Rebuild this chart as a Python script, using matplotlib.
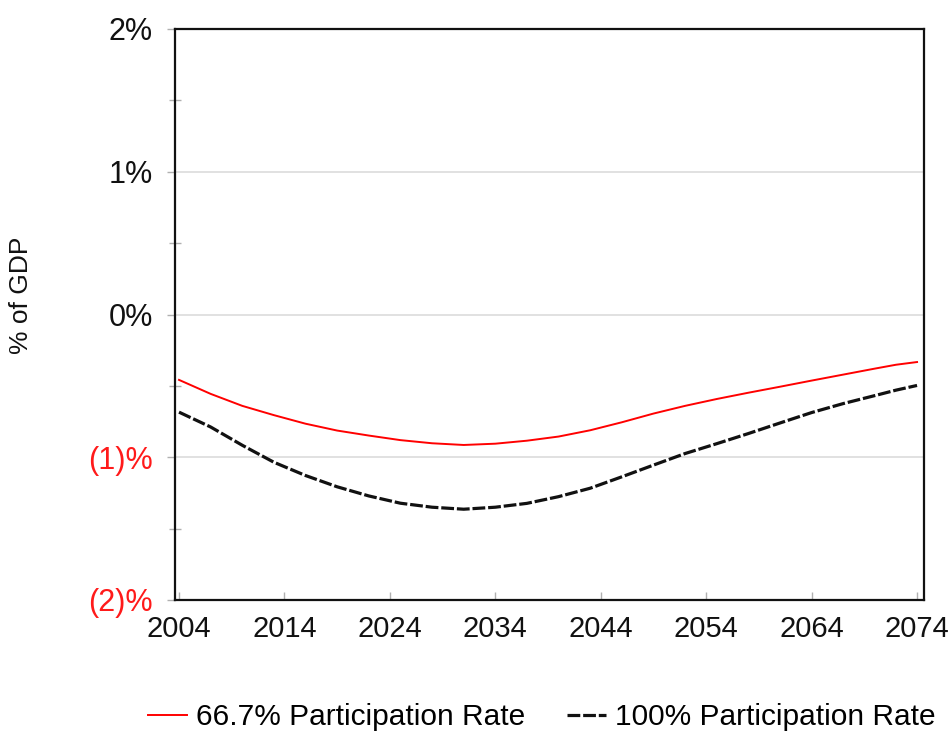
import matplotlib
matplotlib.use("Agg")
import matplotlib.pyplot as plt
from matplotlib.ticker import FixedLocator

plt.rcParams['font.family'] = ['Liberation Sans', 'DejaVu Sans']

# values (% of GDP)
years = [2004, 2007, 2010, 2013, 2016, 2019, 2022, 2025, 2028, 2031, 2034,
         2037, 2040, 2043, 2046, 2049, 2052, 2055, 2058, 2061, 2064, 2067,
         2070, 2072, 2074]
rate_667 = [-0.458, -0.556, -0.640, -0.705, -0.765, -0.813, -0.848, -0.880,
            -0.902, -0.914, -0.905, -0.884, -0.855, -0.811, -0.755, -0.694,
            -0.640, -0.592, -0.548, -0.506, -0.463, -0.421, -0.379, -0.352,
            -0.333]
rate_100 = [-0.684, -0.788, -0.916, -1.035, -1.128, -1.207, -1.271, -1.322,
            -1.350, -1.364, -1.350, -1.323, -1.276, -1.217, -1.137, -1.055,
            -0.974, -0.905, -0.834, -0.760, -0.687, -0.624, -0.568, -0.530,
            -0.497]

x_ticks = [2004, 2014, 2024, 2034, 2044, 2054, 2064, 2074]
y_ticks = [-2, -1, 0, 1, 2]
y_labels = ["(2)%", "(1)%", "0%", "1%", "2%"]
y_minor = [-1.5, -0.5, 0.5, 1.5]

fig = plt.figure(figsize=(9.5, 7.32), dpi=100)
ax = fig.add_axes([175/950, 132/732, 749/950, 571/732])

ax.plot(years, rate_667, color="#ff0000", linewidth=1.4,
        label="66.7% Participation Rate", zorder=3)
ax.plot(years, rate_100, color="#111111", linewidth=2.3, dashes=(4, 0.9),
        label="100% Participation Rate", zorder=3)

ax.set_xlim(2003.62, 2074.66)
ax.set_ylim(-2, 2)

ax.set_xticks(x_ticks)
ax.set_xticklabels([str(y) for y in x_ticks])
ax.set_yticks(y_ticks)
ax.set_yticklabels(y_labels)
ax.yaxis.set_minor_locator(FixedLocator(y_minor))

for lbl, v in zip(ax.get_yticklabels(), y_ticks):
    lbl.set_color("#ff1a1a" if v < 0 else "#111111")

ax.tick_params(axis='x', direction='in', length=6, width=1, color='#b0b0b0',
               pad=11, labelsize=21, labelcolor='#111111')
ax.tick_params(axis='y', which='major', direction='out', length=6, width=1,
               color='#b0b0b0', pad=10, labelsize=22)
ax.tick_params(axis='y', which='minor', direction='inout', length=9, width=1,
               color='#b0b0b0')

for v in [-1, 0, 1]:
    ax.axhline(v, color='#dcdcdc', linewidth=1.2, zorder=1)

for s in ax.spines.values():
    s.set_color('#111111')
    s.set_linewidth(1.6)

ax.set_ylabel("% of GDP", fontsize=19, color='#111111')
ax.yaxis.set_label_coords(-0.19, 0.534)

ax.legend(loc='center', bbox_to_anchor=(0.49, -0.205), ncol=2, frameon=False,
          fontsize=21.5, handlelength=1.3, handletextpad=0.3, columnspacing=1.4)

fig.savefig("out.png", dpi=100)
